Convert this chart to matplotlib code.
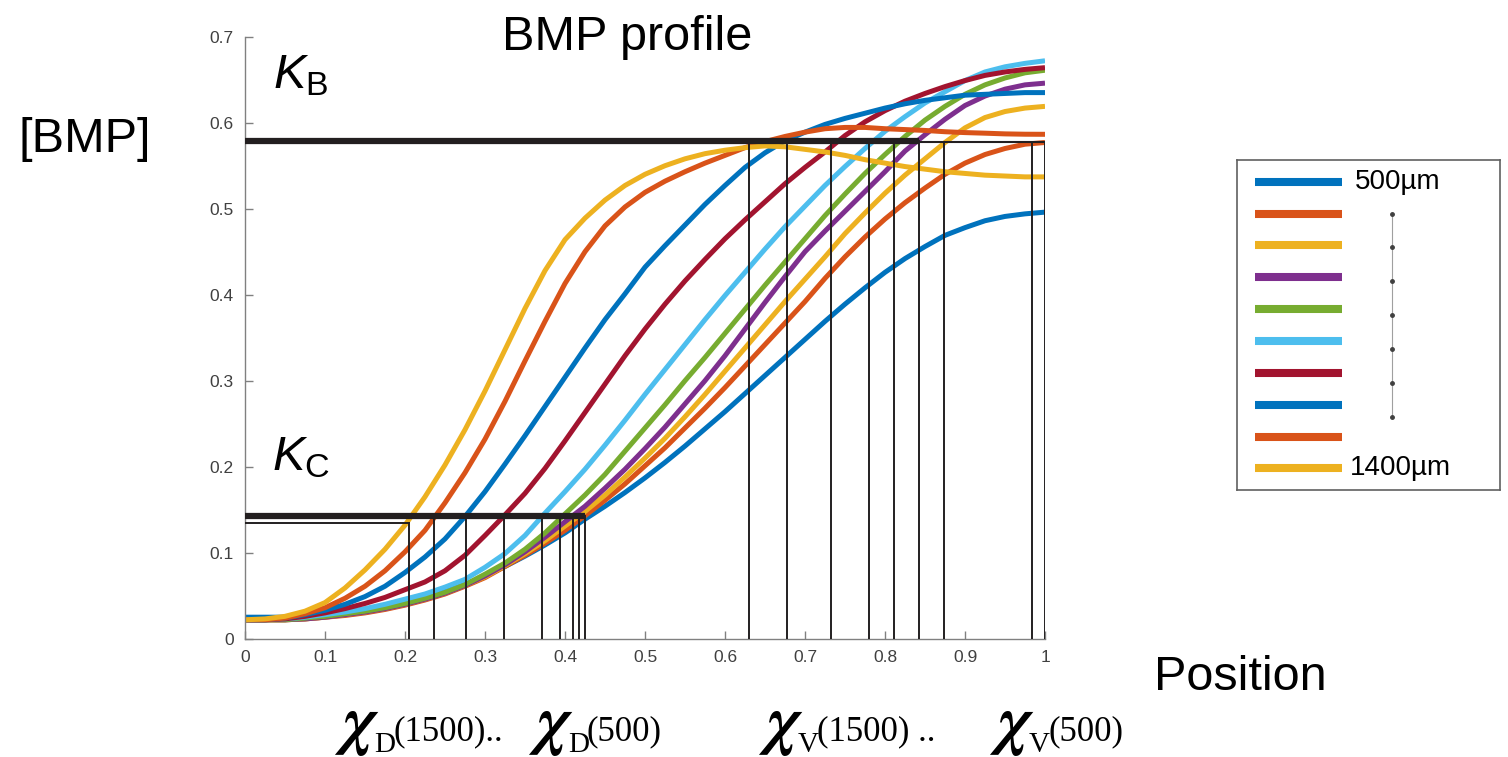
import numpy as np
import matplotlib
matplotlib.use('Agg')
import matplotlib.pyplot as plt

plt.rcParams['font.family'] = ['Liberation Sans', 'DejaVu Sans']
plt.rcParams['mathtext.fontset'] = 'custom'
plt.rcParams['mathtext.it'] = 'Liberation Sans:italic'
plt.rcParams['mathtext.rm'] = 'Liberation Sans'

# positions along the axis (read every 0.025)
position = [0.000, 0.025, 0.050, 0.075, 0.100, 0.125, 0.150, 0.175, 0.200, 0.225,
            0.250, 0.275, 0.300, 0.325, 0.350, 0.375, 0.400, 0.425, 0.450, 0.475,
            0.500, 0.525, 0.550, 0.575, 0.600, 0.625, 0.650, 0.675, 0.700, 0.725,
            0.750, 0.775, 0.800, 0.825, 0.850, 0.875, 0.900, 0.925, 0.950, 0.975, 1.000]

# BMP profiles, one per tissue size
bmp_500 = [0.025, 0.025, 0.025, 0.026, 0.028, 0.030, 0.033, 0.037, 0.042, 0.048,
           0.055, 0.063, 0.073, 0.084, 0.096, 0.109, 0.123, 0.139, 0.154, 0.170,
           0.187, 0.205, 0.224, 0.244, 0.264, 0.285, 0.306, 0.327, 0.348, 0.369,
           0.389, 0.408, 0.426, 0.442, 0.456, 0.469, 0.478, 0.486, 0.491, 0.494, 0.496]
bmp_600 = [0.022, 0.022, 0.022, 0.023, 0.025, 0.027, 0.030, 0.034, 0.039, 0.045,
           0.052, 0.061, 0.071, 0.084, 0.097, 0.111, 0.126, 0.143, 0.161, 0.180,
           0.201, 0.222, 0.245, 0.268, 0.292, 0.317, 0.342, 0.367, 0.392, 0.419,
           0.444, 0.467, 0.488, 0.507, 0.524, 0.540, 0.553, 0.563, 0.570, 0.575, 0.577]
bmp_700 = [0.022, 0.022, 0.022, 0.023, 0.025, 0.028, 0.031, 0.035, 0.040, 0.046,
           0.053, 0.062, 0.072, 0.085, 0.099, 0.114, 0.131, 0.148, 0.167, 0.188,
           0.210, 0.233, 0.258, 0.284, 0.311, 0.338, 0.365, 0.392, 0.418, 0.444,
           0.471, 0.495, 0.518, 0.539, 0.558, 0.577, 0.594, 0.606, 0.613, 0.617, 0.619]
bmp_800 = [0.022, 0.022, 0.022, 0.023, 0.025, 0.028, 0.031, 0.035, 0.040, 0.046,
           0.053, 0.062, 0.073, 0.086, 0.101, 0.118, 0.136, 0.154, 0.175, 0.197,
           0.221, 0.246, 0.273, 0.300, 0.329, 0.360, 0.391, 0.421, 0.450, 0.474,
           0.497, 0.520, 0.543, 0.567, 0.586, 0.604, 0.620, 0.631, 0.639, 0.644, 0.646]
bmp_900 = [0.022, 0.022, 0.022, 0.024, 0.026, 0.029, 0.032, 0.036, 0.041, 0.047,
           0.054, 0.063, 0.075, 0.088, 0.104, 0.123, 0.145, 0.167, 0.191, 0.218,
           0.245, 0.272, 0.300, 0.327, 0.355, 0.383, 0.411, 0.438, 0.465, 0.492,
           0.517, 0.541, 0.563, 0.584, 0.603, 0.619, 0.633, 0.644, 0.652, 0.658, 0.661]
bmp_1000 = [0.022, 0.022, 0.023, 0.025, 0.028, 0.031, 0.035, 0.040, 0.046, 0.052,
            0.060, 0.069, 0.083, 0.099, 0.120, 0.146, 0.171, 0.197, 0.225, 0.254,
            0.284, 0.313, 0.342, 0.371, 0.399, 0.426, 0.453, 0.479, 0.503, 0.527,
            0.549, 0.570, 0.590, 0.607, 0.623, 0.636, 0.649, 0.659, 0.665, 0.669, 0.672]
bmp_1100 = [0.022, 0.022, 0.023, 0.026, 0.030, 0.035, 0.041, 0.048, 0.057, 0.066,
            0.079, 0.097, 0.120, 0.144, 0.169, 0.198, 0.230, 0.263, 0.296, 0.329,
            0.360, 0.389, 0.416, 0.441, 0.465, 0.487, 0.508, 0.529, 0.548, 0.566,
            0.585, 0.601, 0.614, 0.625, 0.634, 0.642, 0.649, 0.655, 0.659, 0.662, 0.664]
bmp_1200 = [0.022, 0.022, 0.024, 0.028, 0.033, 0.040, 0.049, 0.061, 0.077, 0.095,
            0.116, 0.142, 0.171, 0.203, 0.236, 0.270, 0.304, 0.338, 0.371, 0.401,
            0.432, 0.457, 0.481, 0.505, 0.527, 0.548, 0.565, 0.579, 0.589, 0.598,
            0.605, 0.611, 0.617, 0.622, 0.626, 0.629, 0.632, 0.633, 0.634, 0.635, 0.635]
bmp_1300 = [0.022, 0.022, 0.024, 0.029, 0.036, 0.047, 0.061, 0.079, 0.101, 0.126,
            0.158, 0.193, 0.232, 0.276, 0.323, 0.369, 0.413, 0.450, 0.480, 0.502,
            0.519, 0.532, 0.543, 0.553, 0.562, 0.571, 0.578, 0.584, 0.589, 0.593,
            0.5945, 0.5945, 0.593, 0.592, 0.591, 0.5895, 0.5885, 0.5878, 0.587, 0.5866, 0.5865]
bmp_1400 = [0.022, 0.023, 0.026, 0.032, 0.042, 0.059, 0.080, 0.104, 0.132, 0.165,
            0.202, 0.243, 0.288, 0.336, 0.384, 0.428, 0.464, 0.489, 0.510, 0.527,
            0.540, 0.550, 0.558, 0.564, 0.568, 0.571, 0.573, 0.572, 0.569, 0.566,
            0.562, 0.557, 0.553, 0.549, 0.546, 0.543, 0.541, 0.539, 0.538, 0.537, 0.537]

profiles = [bmp_500, bmp_600, bmp_700, bmp_800, bmp_900,
            bmp_1000, bmp_1100, bmp_1200, bmp_1300, bmp_1400]
colors = ['#0072BD', '#D95319', '#EDB120', '#7E2F8E', '#77AC30',
          '#4DBEEE', '#A2142F', '#0072BD', '#D95319', '#EDB120']
legend_labels = ['500µm', '', '', '', '', '', '', '', '', '1400µm']

# thresholds and crossing positions
K_B = 0.579
K_B_low = 0.577
x_V = [0.630, 0.6775, 0.7325, 0.780, 0.811, 0.8425, 0.874, 0.984, 1.0]
K_C = 0.143
K_C_low = 0.135
x_D = [0.2054, 0.2366, 0.276, 0.3237, 0.3708, 0.394, 0.41, 0.4175, 0.4254]

W, H = 1508, 757
fig = plt.figure(figsize=(W / 100, H / 100), dpi=100)
ax = fig.add_axes([245 / W, 1 - 638.7 / H, 800 / W, 602 / H])

for vals, c in zip(profiles, colors):
    ax.plot(position, vals, color=c, lw=3.6, solid_capstyle='butt',
            solid_joinstyle='round', zorder=2)

line_col = '#231f20'
# K_B lines
ax.plot([0, x_V[5]], [K_B, K_B], color=line_col, lw=4.5, solid_capstyle='butt', zorder=3)
ax.plot([x_V[5], x_V[-1]], [K_B_low, K_B_low], color=line_col, lw=1.5, zorder=3)
for i, xv in enumerate(x_V):
    top = K_B if i < 6 else K_B_low
    ax.plot([xv, xv], [top, 0], color=line_col, lw=1.4, zorder=3)
# K_C lines
ax.plot([0, x_D[-1]], [K_C, K_C], color=line_col, lw=4.5, solid_capstyle='butt', zorder=3)
ax.plot([0, x_D[0]], [K_C_low, K_C_low], color=line_col, lw=1.4, zorder=3)
for i, xd in enumerate(x_D):
    top = K_C_low if i == 0 else K_C
    ax.plot([xd, xd], [top, 0], color=line_col, lw=1.4, zorder=3)

ax.set_xlim(0, 1)
ax.set_ylim(0, 0.7)
ax.set_xticks(np.arange(0, 1.01, 0.1))
ax.set_xticklabels(['0', '0.1', '0.2', '0.3', '0.4', '0.5', '0.6', '0.7', '0.8', '0.9', '1'])
ax.set_yticks(np.arange(0, 0.71, 0.1))
ax.set_yticklabels(['0', '0.1', '0.2', '0.3', '0.4', '0.5', '0.6', '0.7'])
ax.tick_params(direction='in', length=6, width=1, color='#808080',
               labelcolor='#404040', labelsize=12.5, pad=8)
for s in ['top', 'right']:
    ax.spines[s].set_visible(False)
for s in ['left', 'bottom']:
    ax.spines[s].set_color('#808080')
    ax.spines[s].set_linewidth(1.0)

# texts
fig.text(627 / W, 1 - 37 / H, 'BMP profile', ha='center', va='center', fontsize=35)
fig.text(85 / W, 1 - 140 / H, '[BMP]', ha='center', va='center', fontsize=35)
fig.text(1240 / W, 1 - 677 / H, 'Position', ha='center', va='center', fontsize=35)
fig.text(273 / W, 1 - 88 / H, r'$K_{\mathrm{B}}$', ha='left', va='baseline', fontsize=35)
fig.text(272 / W, 1 - 470 / H, r'$K_{\mathrm{C}}$', ha='left', va='baseline', fontsize=35)


def chi_label(x0, sub, rest):
    fig.text((x0 + 5) / W, 1 - 742 / H, 'χ', family='STIXGeneral', style='italic',
             weight='bold', size=48, va='baseline')
    fig.text((x0 + 36) / W, 1 - 752 / H, sub, family='Liberation Serif', size=21, va='baseline')
    fig.text((x0 + 55) / W, 1 - 740 / H, rest, family='Liberation Serif', size=25, va='baseline')


chi_label(338, 'D', '(1500)..')
chi_label(532, 'D', '(500)')
chi_label(762, 'V', '(1500) ..')
chi_label(993, 'V', '(500)')

# legend box
lax = fig.add_axes([1237 / W, 1 - 490 / H, 263 / W, 330 / H])
lax.set_xlim(0, 263)
lax.set_ylim(330, 0)
lax.set_xticks([])
lax.set_yticks([])
for s in lax.spines.values():
    s.set_color('#606060')
    s.set_linewidth(1.2)
row_y = 21.7 + 31.85 * np.arange(len(colors))
for yy, c, lab in zip(row_y, colors, legend_labels):
    lax.plot([18, 105], [yy, yy], color=c, lw=5.8, solid_capstyle='butt')
    if lab:
        lax.text(118 if lab == '500µm' else 113, yy, lab, va='center', ha='left', fontsize=20)
dot_y = np.linspace(row_y[1], 256.7, 7)
lax.plot([155, 155], [dot_y[0], dot_y[-1]], color='#a0a0a0', lw=0.8)
lax.plot([155] * 7, dot_y, 'o', color='#404040', ms=2.5)

fig.savefig('out.png', dpi=100)
